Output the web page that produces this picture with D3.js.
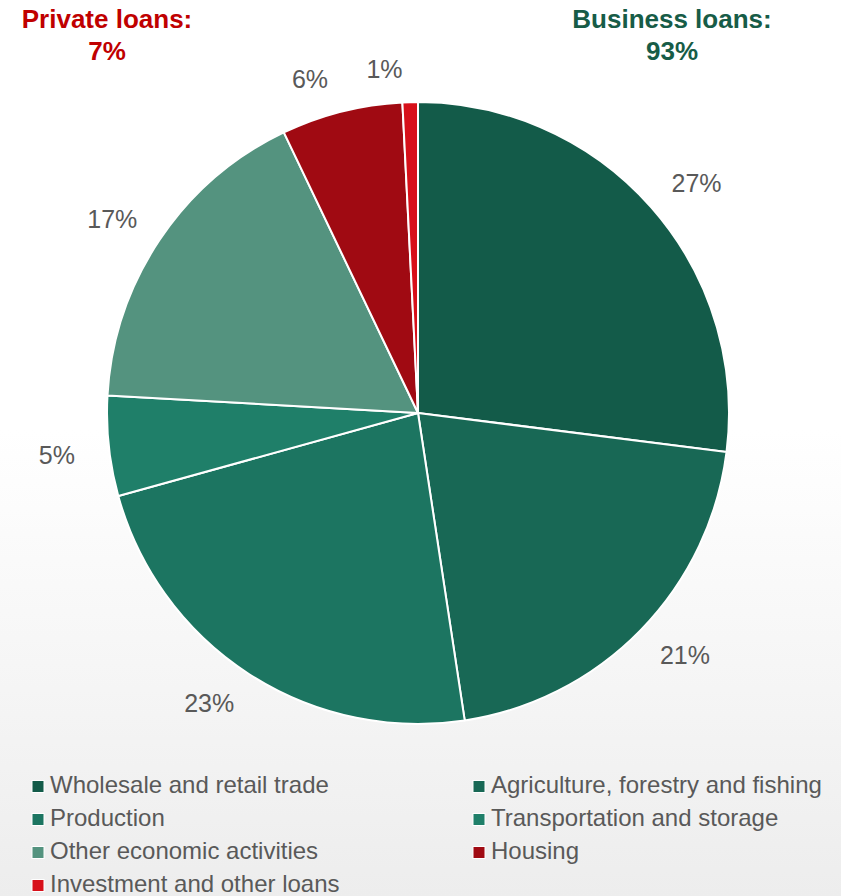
<!DOCTYPE html>
<html>
<head>
<meta charset="utf-8">
<script src="https://cdn.jsdelivr.net/npm/d3@7"></script>
<style>
  html, body { margin: 0; padding: 0; }
  body {
    width: 841px; height: 896px; overflow: hidden;
    background: linear-gradient(to bottom, #ffffff 0%, #ffffff 48%, #ededed 100%);
    font-family: Arial, "Liberation Sans", sans-serif;
  }
</style>
</head>
<body>
<svg width="841" height="896"></svg>
<script>
    const categories = [
      "Wholesale and retail trade",
      "Agriculture, forestry and fishing",
      "Production",
      "Transportation and storage",
      "Other economic activities",
      "Housing",
      "Investment and other loans"
    ];

    // share of loan book, %
    const shares = [27.0, 20.6, 23.1, 5.2, 17.0, 6.3, 0.8];

    const colors = ["#135b49", "#186855", "#1c7561", "#1f7f69", "#54937f", "#a00a12", "#d7101a"];

    const groupTitles = [
      { name: "Private loans:", value: "7%", color: "#c00000", x: 107 },
      { name: "Business loans:", value: "93%", color: "#175c47", x: 672 }
    ];

    const svg = d3.select("svg");
    const cx = 418, cy = 413, radius = 311;

    const color = d3.scaleOrdinal().domain(categories).range(colors);

    const data = categories.map((c, i) => ({ name: c, value: shares[i] }));

    const pie = d3.pie().value(d => d.value).sort(null);
    const arc = d3.arc().innerRadius(0).outerRadius(radius);
    const arcs = pie(data);

    const g = svg.append("g").attr("transform", `translate(${cx},${cy})`);

    g.selectAll("path")
      .data(arcs)
      .join("path")
        .attr("d", arc)
        .attr("fill", d => color(d.data.name))
        .attr("stroke", "#fff")
        .attr("stroke-width", 2)
        .attr("stroke-linejoin", "round");

    // label box corner touches a ring just outside the pie (like office "best fit")
    const gap = 27, halfW = 25, halfH = 6;
    g.selectAll("text.pct")
      .data(arcs)
      .join("text")
        .attr("class", "pct")
        .attr("transform", d => {
          const a = (d.startAngle + d.endAngle) / 2;
          const ux = Math.sin(a), uy = -Math.cos(a);
          const x = (radius + gap) * ux + Math.sign(ux) * halfW;
          const y = (radius + gap) * uy + Math.sign(uy) * halfH;
          return `translate(${x},${y})`;
        })
        .attr("text-anchor", "middle")
        .attr("dy", "0.36em")
        .attr("fill", "#595959")
        .style("font-size", "25px")
        .text(d => Math.round(d.data.value) + "%");

    // group headers
    groupTitles.forEach(t => {
      const tg = svg.append("g")
        .attr("fill", t.color)
        .style("font-weight", "bold")
        .style("font-size", "26px")
        .attr("text-anchor", "middle");
      tg.append("text").attr("x", t.x).attr("y", 28).text(t.name);
      tg.append("text").attr("x", t.x).attr("y", 60).text(t.value);
    });

    // legend, two columns
    const legend = svg.append("g").attr("class", "legend");
    const colX = [32, 473];
    categories.forEach((c, i) => {
      const row = legend.append("g")
        .attr("transform", `translate(${colX[i % 2]}, ${793 + Math.floor(i / 2) * 33})`);
      row.append("rect")
        .attr("x", 0)
        .attr("y", -12.5)
        .attr("width", 12)
        .attr("height", 12)
        .attr("fill", color(c))
        .attr("stroke", "#fff")
        .attr("stroke-width", 1);
      row.append("text")
        .attr("x", 18)
        .attr("y", 0)
        .attr("fill", "#595959")
        .style("font-size", "24px")
        .text(c);
    });
</script>
</body>
</html>
